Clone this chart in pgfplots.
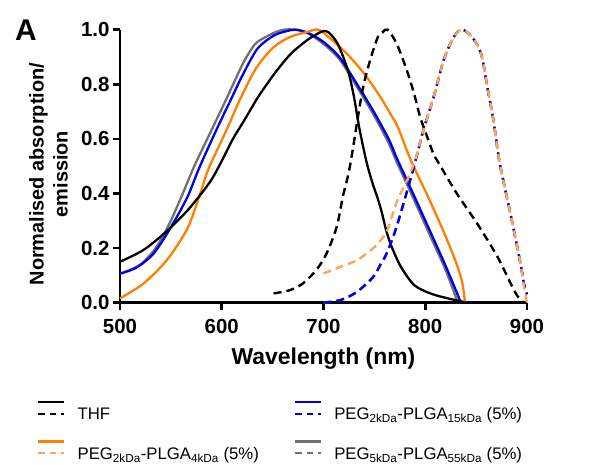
\documentclass[border=0pt]{standalone}
\usepackage{fontspec}
\setmainfont{Liberation Sans}
\usepackage{pgfplots}
\pgfplotsset{compat=1.18}

\definecolor{cblue}{RGB}{0,0,230}
\definecolor{corange}{RGB}{255,128,0}
\definecolor{clorange}{RGB}{255,165,90}
\definecolor{cgray}{RGB}{112,112,112}

\pgfplotsset{
  pair/.style 2 args={legend image code/.code={
    \draw[#1, line width=2.4bp] (0bp,13.6bp) -- (26bp,13.6bp);
    \draw[#2, line width=2.4bp, dash pattern=on 6.5bp off 5bp] (0bp,2bp) -- (26bp,2bp);}},
  abs/.style={smooth, tension=0.5, line width=2.3bp},
  emi/.style={smooth, tension=0.5, line width=2.4bp, dash pattern=on 8bp off 5bp},
}

\begin{document}
\begin{tikzpicture}
\begin{axis}[
  name=ax,
  scale only axis,
  width=407bp, height=273bp,
  xmin=500, xmax=900, ymin=0, ymax=1,
  clip=false,
  axis x line*=bottom, axis y line*=left,
  axis line style={line width=2.6bp, -},
  xtick={500,600,700,800,900},
  ytick={0,0.2,0.4,0.6,0.8,1},
  tick align=outside,
  major tick length=7bp,
  every tick/.style={line width=2.6bp, black},
  tick label style={font=\fontsize{20.5}{24}\selectfont\bfseries},
  /pgf/number format/assume math mode=true,
  yticklabel style={/pgf/number format/.cd, fixed, fixed zerofill, precision=1},
  xticklabel style={yshift=-6bp, /pgf/number format/.cd, 1000 sep={}},
  xlabel={Wavelength (nm)},
  ylabel={Normalised absorption/\\emission},
  xlabel style={font=\fontsize{23}{25}\selectfont\bfseries,
    at={(axis description cs:0.5,-0.166)}, anchor=north, inner sep=0pt},
  ylabel style={font=\fontsize{20}{24}\selectfont\bfseries, align=center,
    at={(axis description cs:-0.128,0.471)}, anchor=south, inner sep=0pt},
  legend columns=2,
  legend cell align=left,
  legend style={at={(axis description cs:-0.2039,-0.359)}, anchor=north west,
    draw=none, fill=none, inner sep=0pt, row sep=15bp,
    font=\fontsize{16.8}{19}\selectfont,
    nodes={inner sep=2bp, text height=12bp, text depth=3.5bp},
    /tikz/every odd column/.style={column sep=10bp},
    /tikz/every even column/.style={column sep=33bp}},
]
% absorption (solid)
\addplot[cgray, abs, forget plot] table {
500 0.105
520 0.140
535 0.200
548 0.285
560 0.385
573 0.500
589 0.625
605 0.750
620 0.870
628 0.922
635 0.955
651 0.988
661 1.000
672 1.000
684 0.988
700 0.948
716 0.890
733 0.790
749 0.690
764 0.585
772 0.515
788 0.385
804 0.252
820 0.120
831 0.010
};
\addplot[cblue, abs, forget plot] table {
500 0.107
516 0.128
533 0.180
549 0.270
566 0.385
578 0.495
595 0.635
611 0.760
620 0.830
635 0.930
651 0.978
664 0.995
673 1.000
685 0.988
700 0.955
716 0.898
733 0.800
749 0.702
764 0.600
772 0.530
788 0.400
804 0.268
820 0.135
834 0.010
};
\addplot[corange, abs, forget plot] table {
500 0.016
523 0.070
546 0.156
566 0.270
578 0.390
587 0.490
605 0.635
618 0.745
634 0.860
651 0.936
667 0.973
684 0.992
695 1.000
707 0.967
723 0.912
740 0.839
756 0.753
766 0.690
773 0.644
786 0.520
803 0.386
819 0.252
830 0.150
836 0.080
839 0.005
};
\addplot[black, abs, forget plot] table {
500 0.150
523 0.193
546 0.262
568 0.345
588 0.440
598 0.505
611 0.600
620 0.655
628 0.705
636 0.755
652 0.840
668 0.912
684 0.962
694 0.985
700 0.995
705 0.990
714 0.948
724 0.851
730 0.753
735 0.644
742 0.520
748 0.440
753 0.385
757 0.335
762 0.260
767 0.205
776 0.132
789 0.065
805 0.034
822 0.016
838 0.003
};
% emission (dashed)
\addplot[cgray, emi, forget plot] table {
700 0.000
717 0.010
733 0.040
749 0.095
756 0.140
762 0.180
772 0.280
789 0.500
798 0.630
808 0.750
818 0.887
828 0.973
836 1.000
846 0.973
855 0.910
861 0.790
867 0.668
873 0.515
883 0.339
893 0.156
897 0.070
900 0.035
};
\addplot[cblue, emi, forget plot] table {
700 0.000
717 0.010
733 0.040
749 0.095
756 0.140
762 0.180
772 0.280
789 0.500
798 0.630
808 0.750
818 0.887
828 0.973
836 1.000
846 0.973
855 0.910
861 0.790
867 0.668
873 0.515
883 0.339
893 0.156
897 0.070
900 0.030
};
\addplot[clorange, emi, forget plot] table {
700 0.107
717 0.132
733 0.156
749 0.200
756 0.228
763 0.268
772 0.370
781 0.440
790 0.520
798 0.630
808 0.750
818 0.887
828 0.973
836 1.000
846 0.973
855 0.910
861 0.790
867 0.668
873 0.515
883 0.339
893 0.156
897 0.060
900 0.000
};
\addplot[black, emi, forget plot] table {
651 0.034
667 0.046
680 0.071
693 0.120
703 0.180
713 0.278
719 0.388
726 0.500
739 0.790
752 0.960
758 0.990
763 1.000
772 0.948
782 0.850
789 0.766
795 0.680
802 0.607
808 0.546
815 0.500
831 0.400
851 0.290
871 0.168
889 0.034
897 0.000
};
% legend
\addlegendimage{pair={black}{black}}
\addlegendentry{THF}
\addlegendimage{pair={cblue}{cblue}}
\addlegendentry{PEG\textsubscript{2kDa}-PLGA\textsubscript{15kDa} (5\%)}
\addlegendimage{pair={corange}{clorange}}
\addlegendentry{PEG\textsubscript{2kDa}-PLGA\textsubscript{4kDa} (5\%)}
\addlegendimage{pair={cgray}{cgray}}
\addlegendentry{PEG\textsubscript{5kDa}-PLGA\textsubscript{55kDa} (5\%)}
\node[anchor=base west, inner sep=0pt, font=\fontsize{30}{30}\selectfont\bfseries]
  at (axis description cs:-0.258,0.962) {A};
\end{axis}
\path (ax.south west) ++(-120bp,-158.3bp) rectangle ++(596bp,461bp);
\end{tikzpicture}
\end{document}
